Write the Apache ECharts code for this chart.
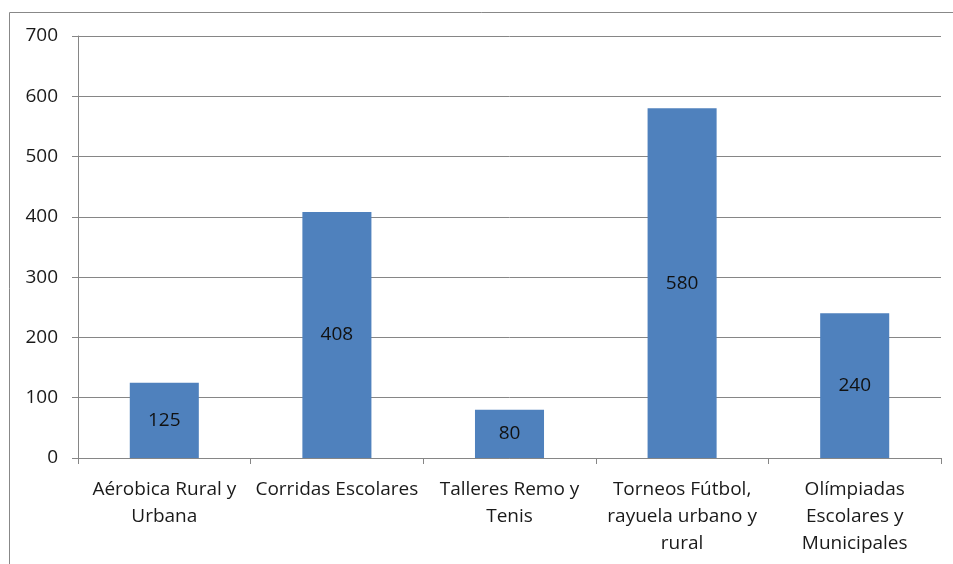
<!DOCTYPE html>
<html><head><meta charset="utf-8">
<script src="https://cdn.jsdelivr.net/npm/echarts@6/dist/echarts.min.js"></script>
<style>html,body{margin:0;padding:0;background:#fff}#c{width:953px;height:564px}</style>
</head><body><div id="c"></div>
<script>
const categories = ["Aérobica Rural y\nUrbana", "Corridas Escolares", "Talleres Remo y\nTenis", "Torneos Fútbol,\nrayuela urbano y\nrural", "Olímpiadas\nEscolares y\nMunicipales"];
const values = [125, 408, 80, 580, 240];
const yTicks = {min: 0, max: 700, interval: 100};

const chart = echarts.init(document.getElementById('c'));
const font = '"Open Sans", "Liberation Sans", sans-serif';
chart.setOption({
  animation: false,
  graphic: [{type: 'rect', shape: {x: 9.5, y: 12.5, width: 1000, height: 600}, style: {fill: 'none', stroke: '#888', lineWidth: 1}, silent: true}],
  grid: {left: 78, right: 12, top: 36, bottom: 106},
  xAxis: {
    type: 'category', data: categories,
    axisLine: {lineStyle: {color: '#868686', width: 1}},
    axisTick: {show: true, length: 6, alignWithLabel: false, lineStyle: {color: '#868686'}},
    axisLabel: {color: '#1a1a1a', fontSize: 19, fontFamily: font, lineHeight: 27, margin: 18, interval: 0}
  },
  yAxis: {
    type: 'value', min: yTicks.min, max: yTicks.max, interval: yTicks.interval,
    axisLine: {show: true, lineStyle: {color: '#868686', width: 1}},
    axisTick: {show: true, length: 6, lineStyle: {color: '#868686'}},
    splitLine: {lineStyle: {color: '#868686', width: 1}},
    axisLabel: {color: '#1a1a1a', fontSize: 19, fontFamily: font, margin: 20}
  },
  series: [{
    type: 'bar', data: values, barWidth: '40%',
    itemStyle: {color: '#4f81bd'},
    label: {show: true, position: 'inside', color: '#111', fontSize: 19, fontFamily: font}
  }]
});
</script></body></html>
